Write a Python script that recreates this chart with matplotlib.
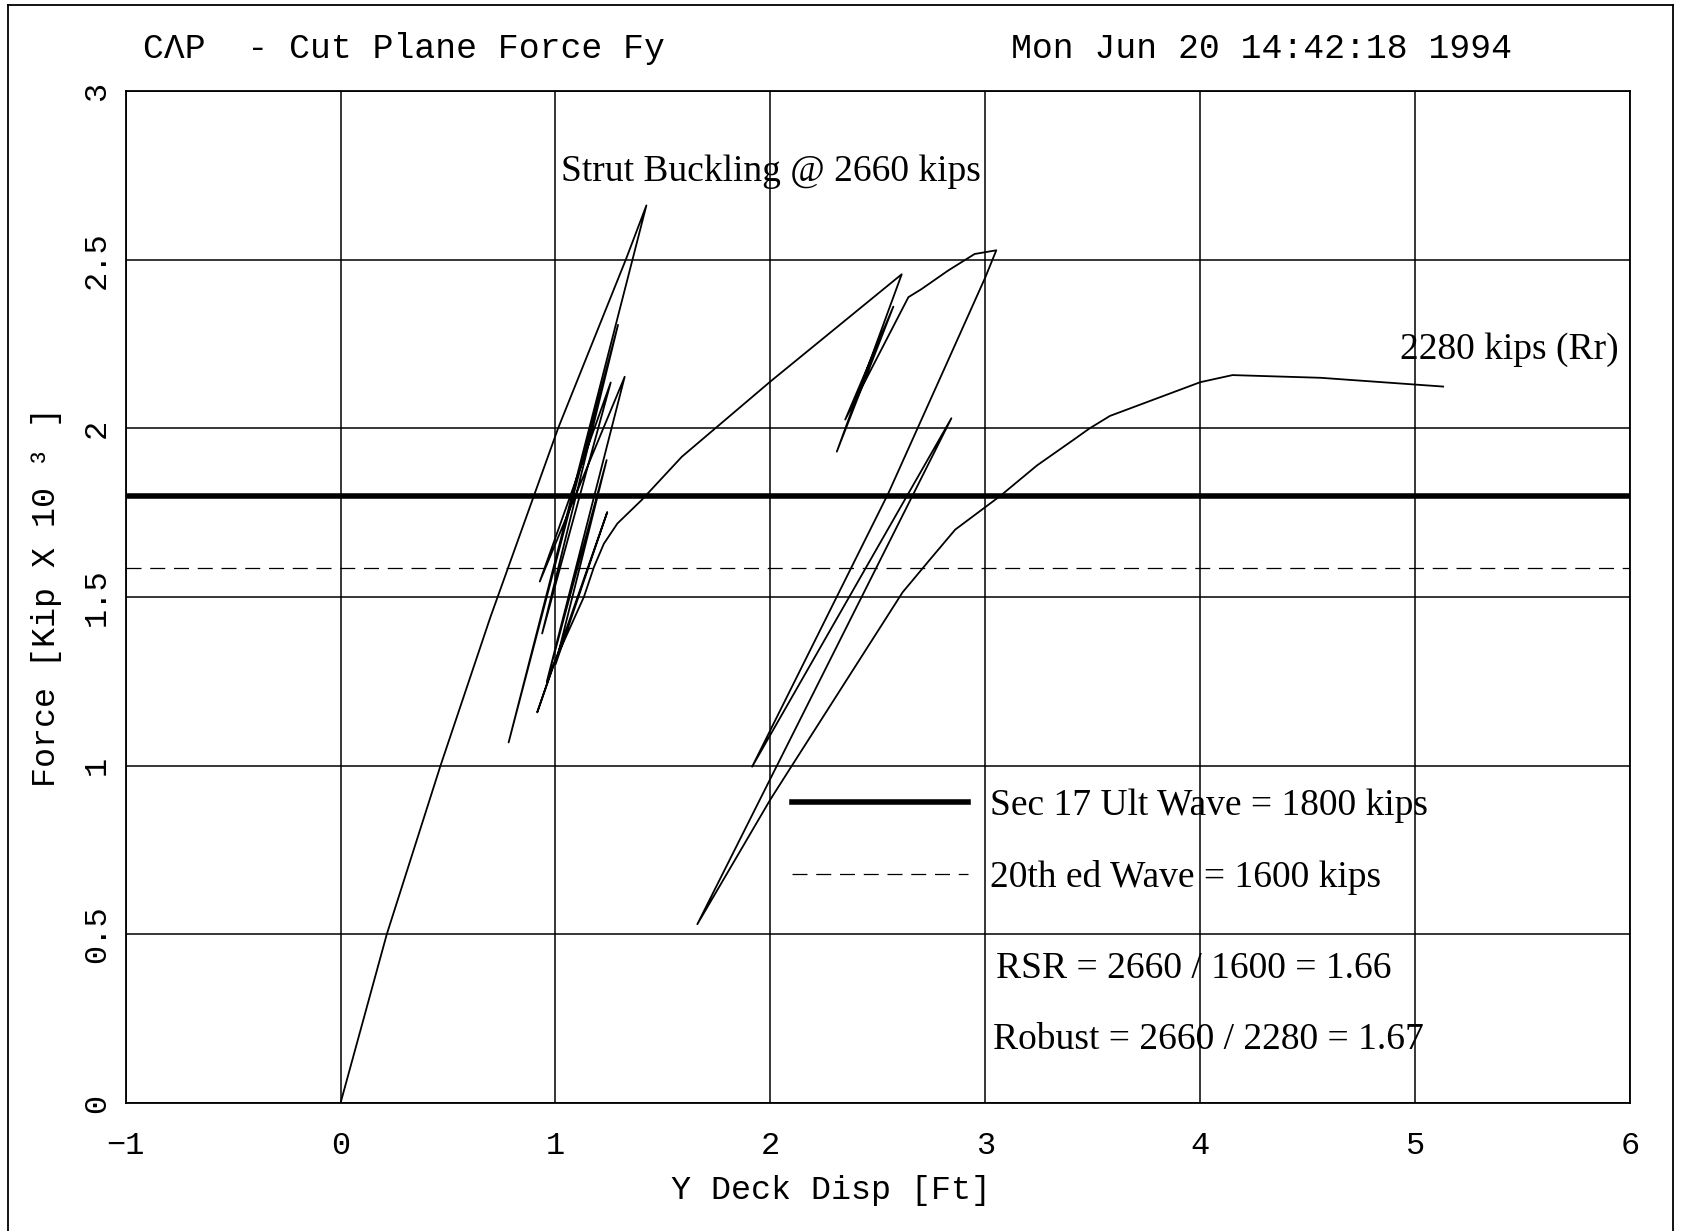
import numpy as np
import matplotlib
matplotlib.use("Agg")
import matplotlib.pyplot as plt
from matplotlib.lines import Line2D

## data (force in kips x 10^3)
disp = [0.0, 0.215, 0.465, 0.697, 1.012, 1.327, 1.423,
        0.782, 1.291, 0.938, 1.257, 0.927, 1.322, 0.96, 1.238, 1.00, 1.241,
        0.915, 0.992, 1.132, 1.179, 1.225, 1.288, 1.40, 1.588, 2.0, 2.611,
        2.309, 2.572, 2.348, 2.642, 2.703, 2.827, 2.95, 3.051,
        3.0, 2.827, 2.688, 2.549, 1.915, 2.842, 1.66,
        2.0, 2.10, 2.615, 2.75, 2.86, 3.07, 3.24, 3.41, 3.485, 3.58,
        4.0, 4.15, 4.56, 5.13]
force = [0.0, 0.5, 1.0, 1.44, 2.0, 2.5, 2.661,
         1.069, 2.307, 1.392, 2.136, 1.546, 2.153, 1.25, 1.906, 1.30, 1.752,
         1.158, 1.302, 1.50, 1.589, 1.658, 1.718, 1.787, 1.916, 2.139, 2.457,
         1.931, 2.361, 2.026, 2.389, 2.413, 2.468, 2.517, 2.528,
         2.448, 2.202, 2.005, 1.808, 0.997, 2.03, 0.53,
         0.90, 1.0, 1.514, 1.617, 1.70, 1.80, 1.89, 1.966, 2.0, 2.037,
         2.137, 2.158, 2.15, 2.124]

ult_wave = 1.8      # Sec 17 ultimate wave
ed20_wave = 1.585   # 20th ed wave (as drawn)

xticks = [-1, 0, 1, 2, 3, 4, 5, 6]
yticks = [0, 0.5, 1, 1.5, 2, 2.5, 3]
ytick_labels = ["0", "0.5", "1", "1.5", "2", "2.5", "3"]

mono = "Liberation Mono"
serif = "Liberation Serif"

##set up figure
fig = plt.figure(figsize=(16.84, 12.31), dpi=100)
ax = fig.add_axes([0.0746, 0.104, 0.8934, 0.822])

ax.plot(disp, force, color="k", linewidth=1.3)

h1 = ax.axhline(ult_wave, color="k", linewidth=4)
h2 = ax.axhline(ed20_wave, color="k", linewidth=0.9, dashes=(12, 7))

ax.set_xlim(-1, 6)
ax.set_ylim(0, 3)
ax.set_xticks(xticks)
ax.set_yticks(yticks)
ax.set_yticklabels(ytick_labels, rotation=90, va="center")
ax.grid(True, color="k", linewidth=1.1)
ax.tick_params(length=0, labelsize=23)
ax.tick_params(axis="x", pad=20)
ax.tick_params(axis="y", pad=10)
for lab in ax.get_xticklabels() + ax.get_yticklabels():
    lab.set_fontfamily(mono)
for sp in ax.spines.values():
    sp.set_linewidth(1.3)

ax.set_xlabel("Y Deck Disp [Ft]", fontsize=24, family=mono, labelpad=10)
ax.xaxis.label.set_x(0.469)
ax.set_ylabel("Force [Kip X 10 \u00b3 ]", fontsize=24, family=mono, labelpad=14)

##annotations
ax.text(1.025, 2.76, "Strut Buckling @ 2660 kips", fontsize=27, family=serif, va="center")
ax.text(4.93, 2.233, "2280 kips (Rr)", fontsize=27, family=serif, va="center")
ax.text(3.05, 0.398, "RSR = 2660 / 1600 = 1.66", fontsize=27, family=serif, va="center")
ax.text(3.035, 0.188, "Robust = 2660 / 2280 = 1.67", fontsize=27, family=serif, va="center")

leg = ax.legend([h1, h2], ["Sec 17 Ult Wave = 1800 kips", "20th ed Wave = 1600 kips"],
                loc="upper left", bbox_to_anchor=(0.4426, 0.311), frameon=False,
                borderpad=0, borderaxespad=0, handlelength=4.7, handletextpad=0.6,
                labelspacing=1.0, prop={"family": serif, "size": 27})

##header
fig.text(0.0848, 0.961, "C\u039bP  - Cut Plane Force Fy", fontsize=25, family=mono, va="center")
fig.text(0.898, 0.961, "Mon Jun 20 14:42:18 1994", fontsize=25, family=mono, va="center", ha="right")

##page frame
fig.add_artist(Line2D([0.005, 0.005], [0.0, 0.9956], color="k", linewidth=1.3))
fig.add_artist(Line2D([0.005, 0.9937], [0.9956, 0.9956], color="k", linewidth=1.3))
fig.add_artist(Line2D([0.9937, 0.9937], [0.0, 0.9956], color="k", linewidth=1.3))

fig.savefig("out.png", dpi=100)
